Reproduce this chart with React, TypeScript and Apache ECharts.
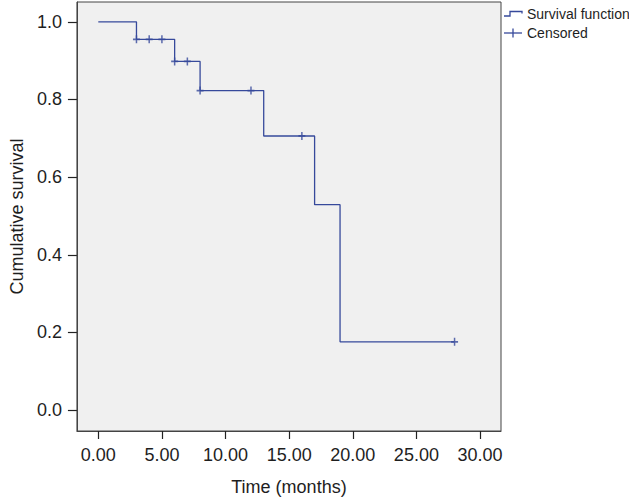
import React, { useEffect, useRef } from "react";
import * as echarts from "echarts";

// Kaplan–Meier step function (time in months, cumulative survival)
const stepTimes = [0, 3, 6, 8, 13, 17, 19, 28];
const stepSurvival = [1.0, 0.955, 0.898, 0.823, 0.706, 0.529, 0.176, 0.176];

// Censored observations
const censoredTimes = [3, 4, 5, 6, 7, 8, 12, 16, 28];
const censoredSurvival = [0.955, 0.955, 0.955, 0.898, 0.898, 0.823, 0.823, 0.706, 0.176];

const xTicks = [0, 5, 10, 15, 20, 25, 30];
const yTicks = [0, 0.2, 0.4, 0.6, 0.8, 1.0];

const legendLabels = ["Survival function", "Censored"];

const LINE = "#36499b";
const TEXT = "#1e1e1e";
const FONT = "'Liberation Sans', Arial, Helvetica, sans-serif";

export default function App() {
  const ref = useRef<HTMLDivElement>(null);
  useEffect(() => {
    if (!ref.current) return;
    const chart = echarts.init(ref.current, undefined, { renderer: "svg" });
    const option: any = {
      animation: false,
      backgroundColor: "#ffffff",
      textStyle: { fontFamily: FONT },
      grid: {
        left: 71,
        top: 2,
        width: 430,
        height: 432,
        show: true,
        backgroundColor: "#f0f0f0",
        borderColor: "#444444",
        borderWidth: 1,
      },
      xAxis: {
        type: "value",
        min: -1.68,
        max: 31.65,
        name: "Time (months)",
        nameLocation: "middle",
        nameGap: 47,
        nameTextStyle: { color: TEXT, fontSize: 18, fontFamily: FONT },
        axisLine: { show: true, onZero: false, lineStyle: { color: "#444444", width: 1 } },
        axisTick: { show: true, customValues: xTicks, length: 8, lineStyle: { color: "#222222", width: 1.2 } },
        axisLabel: {
          customValues: xTicks,
          formatter: (v: number) => v.toFixed(2),
          color: TEXT,
          fontSize: 18,
          fontFamily: FONT,
          margin: 15,
        },
        splitLine: { show: false },
      },
      yAxis: {
        type: "value",
        min: -0.0537,
        max: 1.051,
        name: "Cumulative survival",
        nameLocation: "middle",
        nameGap: 48,
        nameTextStyle: { color: TEXT, fontSize: 18, fontFamily: FONT },
        axisLine: { show: true, onZero: false, lineStyle: { color: "#444444", width: 1 } },
        axisTick: { show: true, customValues: yTicks, length: 9, lineStyle: { color: "#222222", width: 1.2 } },
        axisLabel: {
          customValues: yTicks,
          formatter: (v: number) => v.toFixed(1),
          color: TEXT,
          fontSize: 18,
          fontFamily: FONT,
          margin: 15,
        },
        splitLine: { show: false },
      },
      series: [
        {
          name: legendLabels[0],
          type: "line",
          step: "end",
          showSymbol: false,
          lineStyle: { color: LINE, width: 1.3 },
          data: stepTimes.map((t, i) => [t, stepSurvival[i]]),
        },
        {
          name: legendLabels[1],
          type: "scatter",
          symbol: "path://M0,-1L0,1M-1,0L1,0",
          symbolSize: [7, 8],
          itemStyle: { color: "transparent", borderColor: LINE, borderWidth: 1.6 },
          data: censoredTimes.map((t, i) => [t, censoredSurvival[i]]),
        },
      ],
      graphic: [
        {
          type: "polyline",
          shape: { points: [[504, 16], [510, 16], [510, 11.5], [522, 11.5], [522, 13.5]] },
          style: { stroke: LINE, lineWidth: 1.3, fill: null },
        },
        {
          type: "text",
          x: 527,
          y: 13.5,
          style: { text: legendLabels[0], fill: TEXT, font: `14px ${FONT}`, textVerticalAlign: "middle" },
        },
        {
          type: "line",
          shape: { x1: 504, y1: 33, x2: 522, y2: 33 },
          style: { stroke: LINE, lineWidth: 1.3 },
        },
        {
          type: "line",
          shape: { x1: 513, y1: 28.5, x2: 513, y2: 37.5 },
          style: { stroke: LINE, lineWidth: 1.3 },
        },
        {
          type: "text",
          x: 527,
          y: 33,
          style: { text: legendLabels[1], fill: TEXT, font: `14px ${FONT}`, textVerticalAlign: "middle" },
        },
      ],
    };
    chart.setOption(option);
    return () => chart.dispose();
  }, []);
  return <div ref={ref} style={{ width: 629, height: 501, position: "absolute", left: 0, top: 0 }} />;
}
